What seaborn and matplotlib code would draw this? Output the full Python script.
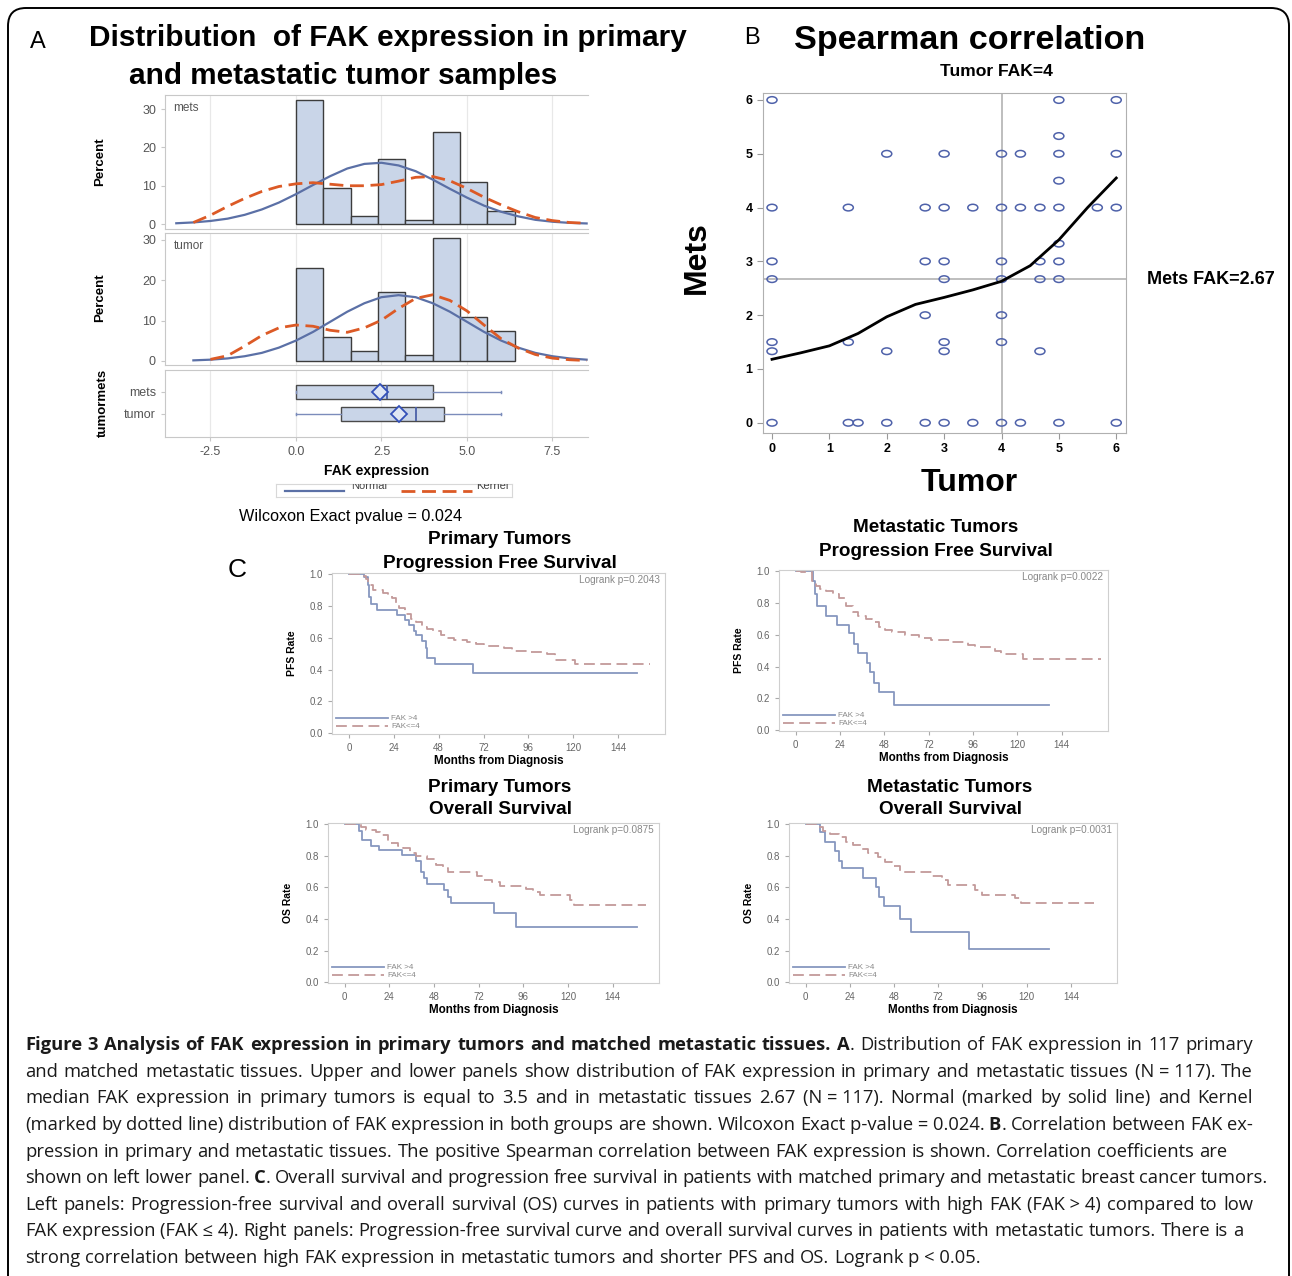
import numpy as np
import matplotlib
matplotlib.use("Agg")
import matplotlib.pyplot as plt
from matplotlib.patches import FancyBboxPatch
from matplotlib.path import Path
from matplotlib.transforms import Affine2D, IdentityTransform
import seaborn as sns

plt.rcParams['font.family'] = ['Liberation Sans', 'DejaVu Sans']

W, H = 1292, 1276
nan = np.nan

# ---------------- panel A: FAK distribution ----------------
bin_edges = [0.0, 0.8, 1.6, 2.4, 3.2, 4.0, 4.8, 5.6, 6.4]
mets_pct = [32.5, 9.5, 2.0, 17.0, 1.0, 24.0, 11.0, 3.5]
tumor_pct = [23.0, 6.0, 2.5, 17.0, 1.5, 30.5, 11.0, 7.5]

curve_x = [-3.5, -3.0, -2.5, -2.0, -1.5, -1.0, -0.5, 0.0, 0.5, 1.0, 1.5, 2.0, 2.5,
           3.0, 3.5, 4.0, 4.5, 5.0, 5.5, 6.0, 6.5, 7.0, 7.5, 8.0, 8.5]
mets_normal = [0.2, 0.42, 0.8, 1.4, 2.4, 3.8, 5.6, 7.8, 10.2, 12.5, 14.5, 15.7, 16.0,
               15.3, 13.8, 11.6, 9.2, 6.9, 4.8, 3.2, 2.0, 1.1, 0.6, 0.3, 0.15]
mets_kernel = [nan, 0.4, 2.3, 4.6, 6.7, 8.5, 9.8, 10.5, 10.8, 10.4, 10.0, 10.0, 10.3,
               11.2, 12.2, 12.4, 11.3, 9.3, 7.0, 5.0, 3.2, 1.7, 0.9, 0.4, 0.2]
tumor_normal = [nan, 0.15, 0.32, 0.63, 1.17, 2.0, 3.3, 5.05, 7.2, 9.7, 12.2, 14.3, 15.8,
                16.3, 15.8, 14.3, 12.2, 9.7, 7.2, 5.05, 3.3, 2.0, 1.17, 0.63, 0.32]
tumor_kernel = [nan, nan, 0.4, 1.3, 3.7, 6.3, 8.2, 8.9, 8.6, 7.6, 7.1, 8.2, 10.1,
                13.0, 15.5, 16.4, 15.0, 12.4, 8.9, 5.5, 3.2, 1.6, 0.7, 0.3, 0.1]

box_groups = ['mets', 'tumor']
box_min = [0.0, 0.0]
box_q1 = [0.0, 1.33]
box_median = [2.67, 3.5]
box_q3 = [4.0, 4.33]
box_max = [6.0, 6.0]
box_mean = [2.45, 3.0]

# ---------------- panel B: Spearman scatter ----------------
tumor_fak = [0, 0, 0, 0, 0, 0, 0,
             1.33, 1.33, 1.33, 1.5,
             2, 2, 2,
             2.67, 2.67, 2.67, 2.67,
             3, 3, 3, 3, 3, 3, 3,
             3.5, 3.5,
             4, 4, 4, 4, 4, 4, 4,
             4.33, 4.33, 4.33,
             4.67, 4.67, 4.67, 4.67,
             5, 5, 5, 5, 5, 5, 5, 5, 5,
             5.67,
             6, 6, 6, 6]
mets_fak = [6, 4, 3, 2.67, 1.5, 1.33, 0,
            4, 1.5, 0, 0,
            5, 1.33, 0,
            4, 3, 2, 0,
            5, 4, 3, 2.67, 1.5, 1.33, 0,
            4, 0,
            5, 4, 3, 2.67, 2, 1.5, 0,
            5, 4, 0,
            4, 3, 2.67, 1.33,
            6, 5.33, 5, 4.5, 4, 3.33, 3, 2.67, 0,
            4,
            6, 5, 4, 0]
smooth_x = [0, 0.5, 1.0, 1.5, 2.0, 2.5, 3.0, 3.5, 4.0, 4.5, 5.0, 5.5, 6.0]
smooth_y = [1.18, 1.3, 1.43, 1.66, 1.97, 2.2, 2.33, 2.47, 2.63, 2.92, 3.4, 4.0, 4.55]
tumor_median = 4
mets_median = 2.67

# ---------------- panel C: Kaplan-Meier ----------------
km_labels = ['FAK >4', 'FAK<=4']

pfs_prim_hi_t = [0, 8, 10, 11, 12, 15, 26, 30, 32, 35, 36, 39, 41, 42, 46, 66.5, 154]
pfs_prim_hi_s = [1.0, 0.98, 0.93, 0.86, 0.81, 0.775, 0.745, 0.71, 0.68, 0.64, 0.62, 0.58,
                 0.535, 0.475, 0.435, 0.38, 0.38]
pfs_prim_lo_t = [0, 6, 9, 10.5, 13, 18, 21, 23, 25, 27, 30, 33, 36, 39, 42, 45, 49, 52, 56,
                 63, 68, 72, 83, 87, 97, 106, 110, 121, 161]
pfs_prim_lo_s = [1.0, 0.99, 0.97, 0.93, 0.90, 0.885, 0.87, 0.85, 0.82, 0.785, 0.75, 0.72,
                 0.70, 0.67, 0.655, 0.64, 0.62, 0.60, 0.585, 0.575, 0.56, 0.55, 0.535, 0.52,
                 0.51, 0.50, 0.46, 0.435, 0.435]

pfs_met_hi_t = [0, 9.5, 10.5, 11.5, 16.5, 22.5, 29, 31.5, 34, 38.5, 40.5, 42.5, 45, 53, 137]
pfs_met_hi_s = [1.0, 0.94, 0.86, 0.78, 0.72, 0.665, 0.61, 0.545, 0.485, 0.425, 0.365,
                0.30, 0.24, 0.16, 0.16]
pfs_met_lo_t = [0, 3, 9, 11, 13, 16.5, 20, 23.5, 27, 31, 34, 38, 41.5, 45, 48.5, 52, 59,
                66.5, 73.5, 84, 93, 97, 108, 111, 123, 165]
pfs_met_lo_s = [1.0, 0.995, 0.94, 0.91, 0.89, 0.875, 0.86, 0.83, 0.78, 0.745, 0.72, 0.70,
                0.68, 0.65, 0.63, 0.615, 0.60, 0.58, 0.57, 0.555, 0.535, 0.525, 0.50, 0.48,
                0.45, 0.45]

os_prim_hi_t = [0, 7.5, 9.5, 14, 18.5, 31, 38.5, 41, 42.5, 44, 53.5, 55.5, 57, 80.5, 92, 157]
os_prim_hi_s = [1.0, 0.96, 0.90, 0.865, 0.835, 0.805, 0.77, 0.70, 0.66, 0.62, 0.585, 0.54,
                0.50, 0.44, 0.35, 0.35]
os_prim_lo_t = [0, 9, 11.5, 17, 19, 23, 28.5, 31.5, 35, 38.5, 44, 49, 53, 55.5, 71, 74.5,
                79, 83.5, 97.5, 101, 105, 121, 123.5, 162]
os_prim_lo_s = [1.0, 0.98, 0.965, 0.95, 0.93, 0.88, 0.86, 0.85, 0.82, 0.80, 0.78, 0.745,
                0.72, 0.695, 0.675, 0.65, 0.635, 0.61, 0.59, 0.57, 0.55, 0.52, 0.49, 0.49]

os_met_hi_t = [0, 8, 10.5, 16, 18, 20, 31, 38, 40, 42.5, 51.5, 57, 88.5, 132]
os_met_hi_s = [1.0, 0.95, 0.89, 0.83, 0.77, 0.72, 0.66, 0.60, 0.54, 0.48, 0.40, 0.32,
               0.21, 0.21]
os_met_lo_t = [0, 6, 9.5, 13, 18, 22, 25.5, 30, 34, 39.5, 43, 47, 51, 68.5, 74, 77.5, 92,
               95.5, 113.5, 117, 156.5]
os_met_lo_s = [1.0, 0.98, 0.96, 0.94, 0.92, 0.89, 0.87, 0.845, 0.82, 0.79, 0.76, 0.735,
               0.70, 0.67, 0.645, 0.615, 0.585, 0.555, 0.535, 0.50, 0.50]

caption_lines = [
    [("Figure 3 Analysis of FAK expression in primary tumors and matched metastatic tissues. A", True),
     (". Distribution of FAK expression in 117 primary", False)],
    [("and matched metastatic tissues. Upper and lower panels show distribution of FAK expression "
      "in primary and metastatic tissues (N\u00a0=\u00a0117). The", False)],
    [("median FAK expression in primary tumors is equal to 3.5 and in metastatic tissues 2.67 "
      "(N\u00a0=\u00a0117). Normal (marked by solid line) and Kernel", False)],
    [("(marked by dotted line) distribution of FAK expression in both groups are shown. "
      "Wilcoxon Exact p-value\u00a0=\u00a00.024. ", False), ("B", True),
     (". Correlation between FAK ex-", False)],
    [("pression in primary and metastatic tissues. The positive Spearman correlation between FAK "
      "expression is shown. Correlation coefficients are", False)],
    [("shown on left lower panel. ", False), ("C", True),
     (". Overall survival and progression free survival in patients with matched primary and "
      "metastatic breast cancer tumors.", False)],
    [("Left panels: Progression-free survival and overall survival (OS) curves in patients with "
      "primary tumors with high FAK (FAK\u00a0>\u00a04) compared to low", False)],
    [("FAK expression (FAK\u00a0\u2264\u00a04). Right panels: Progression-free survival curve and "
      "overall survival curves in patients with metastatic tumors. There is a", False)],
    [("strong correlation between high FAK expression in metastatic tumors and shorter PFS and OS. "
      "Logrank p\u00a0<\u00a00.05.", False)],
]
caption_right = [1253, 1253, 1253, 1253, 1227, 1268, 1253, 1243, None]

# ---------------- helpers ----------------
fig = plt.figure(figsize=(W / 100, H / 100), dpi=100)


def add_ax(x0, y0, x1, y1):
    return fig.add_axes([x0 / W, 1 - y1 / H, (x1 - x0) / W, (y1 - y0) / H])


def ftext(x, y, s, **kw):
    kw.setdefault('ha', 'center')
    kw.setdefault('va', 'center')
    return fig.text(x / W, 1 - y / H, s, **kw)


# colours
bar_fill = '#c9d5e8'
bar_edge = '#3c3c3c'
normal_col = '#5b70a6'
kernel_col = '#dc5a26'
frame_col = '#c8c8c8'
tick_col = '#555555'

# outer rounded frame
frame = FancyBboxPatch((8, -40), 1281, H - 8 + 40, boxstyle='round,pad=0,rounding_size=18',
                       fill=False, edgecolor='black', linewidth=1.4,
                       transform=IdentityTransform())
fig.add_artist(frame)

# ---------------- panel A ----------------
ftext(38, 42, 'A', fontsize=17)
ftext(388, 38, 'Distribution  of FAK expression in primary', fontsize=21.4, fontweight='bold')
ftext(343, 76, 'and metastatic tumor samples', fontsize=21.4, fontweight='bold')

xlim_a = (-3.83, 8.54)
xticks_a = [-2.5, 0.0, 2.5, 5.0, 7.5]


def style_a(ax):
    for side, sp in ax.spines.items():
        sp.set_color(frame_col)
    ax.spines['right'].set_visible(False)
    ax.set_xlim(*xlim_a)
    ax.set_xticks(xticks_a)
    for xv in xticks_a:
        ax.axvline(xv, color='#e8e8e8', lw=0.9, zorder=0)
    ax.tick_params(colors=frame_col, labelcolor=tick_col, labelsize=9, length=3)
    ax.set_xlabel('')
    ax.set_ylabel('')


hist_specs = [((165, 95, 588, 229), mets_pct, mets_normal, mets_kernel, 'mets', (-1.3, 33.7)),
              ((165, 233, 588, 365), tumor_pct, tumor_normal, tumor_kernel, 'tumor', (-1.0, 31.7))]
for box, pct, norm_y, kern_y, name, ylim in hist_specs:
    ax = add_ax(*box)
    sns.histplot(x=bin_edges[:-1], weights=pct, bins=bin_edges, ax=ax, color=bar_fill,
                 edgecolor=bar_edge, linewidth=1, alpha=1, zorder=2)
    sns.lineplot(x=curve_x, y=norm_y, ax=ax, color=normal_col, lw=1.6, zorder=3)
    sns.lineplot(x=curve_x, y=kern_y, ax=ax, color=kernel_col, lw=2, zorder=4,
                 linestyle=(0, (5, 2.4)))
    style_a(ax)
    ax.set_ylim(*ylim)
    ax.set_yticks([0, 10, 20, 30])
    ax.tick_params(axis='x', labelbottom=False, length=0)
    ax.text(0.02, 0.9, name, transform=ax.transAxes, fontsize=8.5, color=tick_col,
            va='center')
    ax.grid(False)

ftext(100, 162, 'Percent', fontsize=9.5, fontweight='bold', rotation=90)
ftext(100, 298, 'Percent', fontsize=9.5, fontweight='bold', rotation=90)

axb = add_ax(165, 370, 588, 437)
stats = []
for i, g in enumerate(box_groups):
    stats.append(dict(label=g, whislo=box_min[i], q1=box_q1[i], med=box_median[i],
                      q3=box_q3[i], whishi=box_max[i], mean=box_mean[i], fliers=[]))
axb.bxp(stats, positions=[1, 0], orientation='horizontal', widths=0.65, patch_artist=True,
        showmeans=True, capwidths=0.12,
        boxprops=dict(facecolor=bar_fill, edgecolor='#4a4a4a', linewidth=1),
        medianprops=dict(color='#4a60a8', linewidth=1.3),
        whiskerprops=dict(color='#7b8cbb', linewidth=1),
        capprops=dict(color='#7b8cbb', linewidth=1),
        meanprops=dict(marker='D', markerfacecolor='#dfe6f3', markeredgecolor='#3350b8',
                       markersize=8, markeredgewidth=1.3))
style_a(axb)
axb.set_ylim(-1.05, 2.0)
axb.set_yticks([1, 0])
axb.set_yticklabels(box_groups)
axb.set_xticklabels(['-2.5', '0.0', '2.5', '5.0', '7.5'])
ftext(103, 403, 'tumormets', fontsize=9.5, fontweight='bold', rotation=90)
ftext(377, 471, 'FAK expression', fontsize=10, fontweight='bold')

# clipped legend strip of panel A (upper half of the labels is cut off)
axl = add_ax(276, 484, 512, 497)
axl.set_xlim(0, 1)
axl.set_ylim(0, 1)
axl.set_xticks([])
axl.set_yticks([])
for sp in axl.spines.values():
    sp.set_color('#d8d8d8')
sns.lineplot(x=[0.04, 0.29], y=[0.5, 0.5], ax=axl, color=normal_col, lw=1.6)
sns.lineplot(x=[0.53, 0.83], y=[0.5, 0.5], ax=axl, color=kernel_col, lw=2,
             linestyle=(0, (5, 2.4)))
axl.text(0.32, 0.82, 'Normal', fontsize=8, color='#444444', va='center', clip_on=True)
axl.text(0.85, 0.82, 'Kernel', fontsize=8, color='#444444', va='center', clip_on=True)

ftext(351, 517, 'Wilcoxon Exact pvalue = 0.024', fontsize=11.7)

# ---------------- panel B ----------------
ftext(752, 38, 'B', fontsize=17)
ftext(970, 41, 'Spearman correlation', fontsize=24.6, fontweight='bold')
ftext(996, 72, 'Tumor FAK=4', fontsize=12.6, fontweight='bold')

axs = add_ax(763, 93, 1126, 433)
oval = Path.unit_circle().transformed(Affine2D().scale(1.0, 0.66))
axs.axvline(tumor_median, color='#b9b9b9', lw=1.3, zorder=1)
axs.axhline(mets_median, color='#b9b9b9', lw=1.3, zorder=1)
sns.scatterplot(x=tumor_fak, y=mets_fak, ax=axs, marker=oval, s=52, facecolor='none',
                edgecolor='#4f62aa', linewidth=1.1, zorder=3)
sns.lineplot(x=smooth_x, y=smooth_y, ax=axs, color='black', lw=2, zorder=4)
axs.set_xlim(-0.157, 6.17)
axs.set_ylim(-0.19, 6.13)
axs.set_xticks(range(7))
axs.set_yticks(range(7))
for sp in axs.spines.values():
    sp.set_color('#b0b0b0')
axs.tick_params(colors='#999999', labelcolor='black', labelsize=9, length=4)
for lab in axs.get_xticklabels() + axs.get_yticklabels():
    lab.set_fontweight('bold')
axs.set_xlabel('')
axs.set_ylabel('')
ftext(697, 258, 'Mets', fontsize=23, fontweight='bold', rotation=90)
ftext(969, 483, 'Tumor', fontsize=23, fontweight='bold')
ftext(1211, 280, 'Mets FAK=2.67', fontsize=13, fontweight='bold')

# ---------------- panel C ----------------
ftext(237, 570, 'C', fontsize=19)

km_specs = [
    ((332, 573, 665, 734), pfs_prim_hi_t, pfs_prim_hi_s, pfs_prim_lo_t, pfs_prim_lo_s,
     'Logrank p=0.2043', 'PFS Rate', ('Primary Tumors', 'Progression Free Survival'), (500, 540)),
    ((779, 570, 1108, 731), pfs_met_hi_t, pfs_met_hi_s, pfs_met_lo_t, pfs_met_lo_s,
     'Logrank p=0.0022', 'PFS Rate', ('Metastatic Tumors', 'Progression Free Survival'), (936, 528)),
    ((328, 823, 659, 983), os_prim_hi_t, os_prim_hi_s, os_prim_lo_t, os_prim_lo_s,
     'Logrank p=0.0875', 'OS Rate', ('Primary Tumors', 'Overall Survival'), (500, 787)),
    ((789, 823, 1117, 983), os_met_hi_t, os_met_hi_s, os_met_lo_t, os_met_lo_s,
     'Logrank p=0.0031', 'OS Rate', ('Metastatic Tumors', 'Overall Survival'), (950, 787)),
]
for box, hi_t, hi_s, lo_t, lo_s, logrank, ylab, titles, tpos in km_specs:
    ax = add_ax(*box)
    sns.lineplot(x=hi_t, y=hi_s, ax=ax, color='#8797bf', lw=1.3, drawstyle='steps-post',
                 errorbar=None)
    sns.lineplot(x=lo_t, y=lo_s, ax=ax, color='#c39a9a', lw=1.3, drawstyle='steps-post',
                 errorbar=None, linestyle=(0, (6, 3)))
    ax.set_xlim(-9, 169)
    ax.set_ylim(-0.005, 1.008)
    ax.set_xticks(range(0, 145, 24))
    ax.set_yticks([0, 0.2, 0.4, 0.6, 0.8, 1.0])
    ax.set_yticklabels(['0.0', '0.2', '0.4', '0.6', '0.8', '1.0'])
    for sp in ax.spines.values():
        sp.set_color('#cfcfcf')
    ax.tick_params(colors='#aaaaaa', labelcolor='#666666', labelsize=7, length=3)
    ax.set_xlabel('')
    ax.set_ylabel('')
    ax.text(0.985, 0.955, logrank, transform=ax.transAxes, ha='right', va='center',
            fontsize=7.2, color='#888888')
    ax.legend(handles=ax.lines[:2], labels=km_labels, loc='lower left', frameon=False,
              fontsize=5.8, labelcolor='#888888', handlelength=6.5, handletextpad=0.4,
              labelspacing=0.05, borderaxespad=0.25, borderpad=0.2)
    x0, y0, x1, y1 = box
    ftext(x0 - 40, (y0 + y1) / 2, ylab, fontsize=7.5, fontweight='bold', rotation=90)
    ftext((x0 + x1) / 2, y1 + 27, 'Months from Diagnosis', fontsize=8.4, fontweight='bold')
    ftext(tpos[0], tpos[1], titles[0], fontsize=13.6, fontweight='bold')
    ftext(tpos[0], tpos[1] + 23, titles[1], fontsize=13.6, fontweight='bold')

# ---------------- caption ----------------
renderer = fig.canvas.get_renderer()
cap_font = ['Open Sans', 'DejaVu Sans']
cap_size = 13.2


def build_words(segments):
    words = []
    glue = False
    for text, bold in segments:
        parts = text.split(' ')
        for i, p in enumerate(parts):
            if not p:
                continue
            if i == 0 and glue and words:
                words[-1].append((p, bold))
            else:
                words.append([(p, bold)])
        glue = not text.endswith(' ')
    return words


def measure(s, bold):
    t = fig.text(0, 0, s, fontsize=cap_size, family=cap_font,
                 fontweight='bold' if bold else 'normal')
    w = t.get_window_extent(renderer).width
    t.remove()
    return w


space_w = measure('a a', False) - measure('aa', False)
x_start = 25
for li, segments in enumerate(caption_lines):
    base_y = 1050 + 26.63 * li
    words = build_words(segments)
    widths = [[measure(p, b) for p, b in wd] for wd in words]
    total = sum(sum(w) for w in widths)
    if caption_right[li] is not None and len(words) > 1:
        gap = (caption_right[li] - x_start - total) / (len(words) - 1)
        gap = max(gap, 0.6 * space_w)
    else:
        gap = space_w
    x = x_start
    for wd, ws in zip(words, widths):
        for (p, b), w in zip(wd, ws):
            fig.text(x / W, 1 - base_y / H, p, fontsize=cap_size, family=cap_font,
                     fontweight='bold' if b else 'normal', ha='left', va='baseline',
                     color='#1a1a1a')
            x += w
        x += gap

fig.savefig('out.png', dpi=100)
